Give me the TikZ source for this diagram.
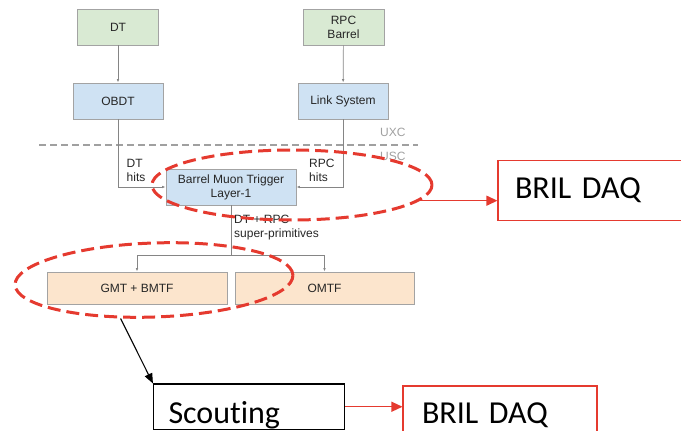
\documentclass[tikz,border=0pt]{standalone}
\usepackage{fontspec}
\setmainfont{Liberation Sans}
\newfontfamily\brilfont[Ligatures=NoCommon]{Carlito}
\usetikzlibrary{arrows.meta,shapes.geometric,calc}

\definecolor{boxline}{HTML}{A3A3A3}
\definecolor{greenfill}{HTML}{D9EAD3}
\definecolor{bluefill}{HTML}{CFE2F3}
\definecolor{orangefill}{HTML}{FCE5CD}
\definecolor{wire}{HTML}{858585}
\definecolor{annot}{HTML}{E53A2F}
\definecolor{zone}{HTML}{A0A0A0}

\begin{document}
\begin{tikzpicture}[x=1pt,y=-1pt,
  smalltext/.style={font=\fontsize{12}{14}\selectfont, text=black!85},
  block/.style={draw=boxline, line width=0.8pt, inner sep=0pt, align=center,
    smalltext, minimum width=#1},
  greenbox/.style={block=81pt, fill=greenfill, minimum height=36pt},
  bluebox/.style={block=#1, fill=bluefill, minimum height=36pt},
  orangebox/.style={block=#1, fill=orangefill, minimum height=32pt},
  wirearrow/.style={draw=wire, line width=0.7pt, -{Latex[length=3.5pt,width=2.6pt]}},
  wireline/.style={draw=wire, line width=0.7pt},
  hitlabel/.style={smalltext, align=left, inner sep=0pt, anchor=west},
  zonelabel/.style={font=\fontsize{12}{14}\selectfont, text=zone, inner sep=0pt, anchor=west},
  redring/.style={ellipse, draw=annot, line width=3pt, dash pattern=on 13pt off 6pt,
    inner sep=0pt},
  bigbox/.style={draw=#1, line width=1.1pt, fill=white, align=left, inner ysep=0pt,
    font=\brilfont\fontsize{32}{36}\selectfont, text=black},
  redarrow/.style={draw=annot, line width=1.3pt, -{Triangle[length=11pt,width=10pt]}},
  blackarrow/.style={draw=black, line width=1.1pt, -{Triangle[length=10pt,width=8pt]}}
]
\useasboundingbox (0,0) rectangle (681,431);
\clip (0,0) rectangle (681,431);

% front-end sources and their concentrators
\node[greenbox] (dt)  at (118,27)   {DT};
\node[greenbox] (rpc) at (343.5,27) {RPC\\Barrel};
\node[bluebox=90pt] (obdt) at (118,101) {OBDT};
\node[bluebox=90pt] (link) at (343,101) {Link System};

% cavern boundary
\draw[zone, line width=1.4pt, dash pattern=on 7pt off 4pt] (39,145) -- (418,145);
\node[zonelabel] (uxc) at (380,132.5) {UXC};
\node[zonelabel] (usc) at (380,156)   {USC};

% layer-1 and the track finders
\node[bluebox=130pt] (bmt) at (231,187) {Barrel Muon Trigger\\Layer-1};
\node[orangebox=180pt] (gmt)  at (137,288)   {GMT + BMTF};
\node[orangebox=179pt] (omtf) at (324.5,288) {OMTF};
\coordinate (split) at (231,255);

\draw[wirearrow] (dt) -- (obdt);
\draw[wirearrow] (rpc) -- (link);
\draw[wirearrow] (obdt.south) |- (bmt.west);
\draw[wirearrow] (link.south) |- (bmt.east);
\draw[wireline] (bmt.south) -- (split);
\draw[wirearrow] (split) -| (gmt.north);
\draw[wirearrow] (split) -| (omtf.north);

\node[hitlabel] (dthits)  at (126.5,170) {DT\\hits};
\node[hitlabel] (rpchits) at (309,170) {RPC\\hits};
\node[hitlabel] (superp)  at (234,227.5) {DT + RPC\\super-primitives};

% highlighted readout paths
\node[redring, minimum width=280pt, minimum height=70pt] (ring1) at (292,185) {};
\node[redring, minimum width=278pt, minimum height=74pt, rotate=2] (ring2) at (154,280) {};

\node[bigbox=annot, inner xsep=17pt, text width=168pt, minimum height=60pt]
  (bril1) at (599,190.5) {BRIL DAQ};
\node[bigbox=black, inner xsep=15pt, text width=161pt, minimum height=45.5pt,
  text height=32.5pt, text depth=0pt]
  (scout) at (249,406.75) {Scouting};
\node[bigbox=annot, inner xsep=19pt, text width=156pt, minimum height=58pt]
  (bril2) at (500,415) {BRIL DAQ};

\draw[redarrow] (ring1.-7) -- (ring1.-7 -| bril1.west);
\draw[blackarrow] (ring2.-133) -- (scout.north west);
\draw[redarrow] (scout.east) -- (scout.east -| bril2.west);
\end{tikzpicture}
\end{document}
